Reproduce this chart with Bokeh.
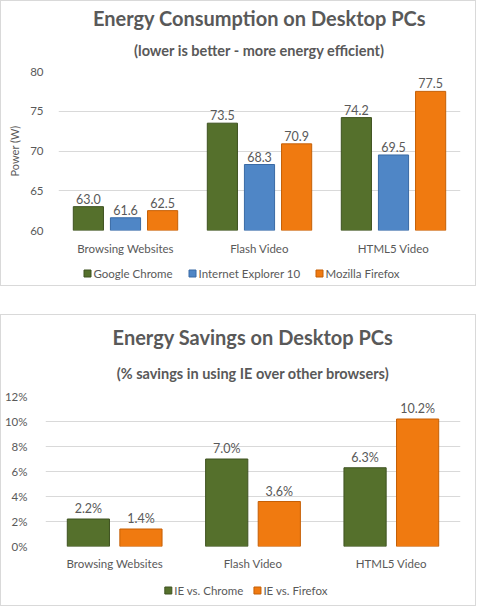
from bokeh.plotting import figure
from bokeh.models import (ColumnDataSource, FactorRange, Range1d, Title, FixedTicker,
                          PrintfTickFormatter)
from bokeh.core.properties import value
from bokeh.transform import dodge
from bokeh.layouts import column
from bokeh.embed import file_html
from bokeh.resources import INLINE

# ---------------- data ----------------
categories = ["Browsing Websites", "Flash Video", "HTML5 Video"]
chrome = [63.0, 73.5, 74.2]
ie10 = [61.6, 68.3, 69.5]
firefox = [62.5, 70.9, 77.5]
power_ticks = [60, 65, 70, 75, 80]
legend1 = ["Google Chrome", "Internet Explorer 10", "Mozilla Firefox"]

ie_vs_chrome = [2.2, 7.0, 6.3]
ie_vs_firefox = [1.4, 3.6, 10.2]
saving_ticks = [0, 2, 4, 6, 8, 10, 12]
legend2 = ["IE vs. Chrome", "IE vs. Firefox"]

FONT = "Lato"
TXT = "#595959"
GREEN, GREEN_E = "#55702c", "#3e5220"
BLUE, BLUE_E = "#4f86c6", "#3a6aa5"
ORANGE, ORANGE_E = "#f07a10", "#c55f05"
W = 474
RIGHT = 15


def base_fig(h, left, top, bottom, yr, ticks, xstand, ystand):
    p = figure(width=W, height=h, x_range=FactorRange(*categories, range_padding=0),
               y_range=yr, output_backend="svg", toolbar_location=None,
               min_border_left=left, min_border_right=RIGHT, min_border_top=top,
               min_border_bottom=bottom)
    p.outline_line_color = None
    p.xgrid.grid_line_color = None
    p.ygrid.grid_line_color = "#d9d9d9"
    p.yaxis.ticker = FixedTicker(ticks=ticks)
    for ax in (p.xaxis, p.yaxis):
        ax.axis_line_color = None
        ax.major_tick_line_color = None
        ax.minor_tick_line_color = None
        ax.major_label_text_font = FONT
        ax.major_label_text_color = TXT
        ax.major_label_text_font_size = "11.5px"
    p.xaxis.major_label_standoff = xstand
    p.yaxis.major_label_standoff = ystand
    return p


def titles(p, main, sub, main_standoff, sub_standoff):
    p.title.text = main
    p.title.align = "center"
    p.title.text_font = FONT
    p.title.text_font_size = "20px"
    p.title.text_font_style = "bold"
    p.title.text_color = TXT
    p.title.standoff = main_standoff
    st = Title(text=sub, align="center", text_font=FONT, text_font_size="14.5px",
               text_font_style="bold", text_color=TXT, standoff=sub_standoff)
    p.add_layout(st, "above")


def bars(p, vals, off, w, fill, edge, fmt, base):
    src = ColumnDataSource(dict(cat=categories, v=vals, lbl=[fmt % v for v in vals]))
    p.vbar(x=dodge("cat", off, range=p.x_range), top="v", bottom=base,
           width=w, source=src, fill_color=fill, line_color=edge, line_width=1)
    p.text(x=dodge("cat", off, range=p.x_range), y="v", text="lbl", source=src,
           text_align="center", text_baseline="bottom", y_offset=-3,
           text_font=value(FONT), text_font_size="12.5px", text_color=TXT)


def legend_fig(labels, xs, colors, edges, h, yc, left):
    q = figure(width=W, height=h, x_range=Range1d(left, W - RIGHT), y_range=Range1d(0, h),
               output_backend="svg", toolbar_location=None, x_axis_type=None,
               y_axis_type=None, min_border_left=left, min_border_right=RIGHT,
               min_border_top=0, min_border_bottom=0)
    q.outline_line_color = None
    q.xgrid.grid_line_color = None
    q.ygrid.grid_line_color = None
    src = ColumnDataSource(dict(x=xs, tx=[x + 6 for x in xs], y=[yc] * len(xs),
                                lbl=labels, c=colors, e=edges))
    q.scatter(x="x", y="y", marker="square", size=7, fill_color="c", line_color="e",
              source=src)
    q.text(x="tx", y="y", text="lbl", source=src, text_align="left",
           text_baseline="middle", text_font=value(FONT), text_font_size="11.5px",
           text_color=TXT)
    return q


BOX = {"border": "1px solid #d9d9d9"}

# ---------------- chart 1 ----------------
p1 = base_fig(257, 57, 70, 28, Range1d(60, 80), power_ticks, 5, 9)
titles(p1, "Energy Consumption on Desktop PCs", "(lower is better - more energy efficient)",
       -5, 25)
p1.yaxis.axis_label = "Power (W)"
p1.yaxis.axis_label_text_font = FONT
p1.yaxis.axis_label_text_font_size = "11px"
p1.yaxis.axis_label_text_font_style = "normal"
p1.yaxis.axis_label_text_color = TXT
p1.yaxis.axis_label_standoff = 6
bars(p1, chrome, -0.277, 0.225, GREEN, GREEN_E, "%.1f", 60)
bars(p1, ie10, 0.0, 0.225, BLUE, BLUE_E, "%.1f", 60)
bars(p1, firefox, 0.277, 0.225, ORANGE, ORANGE_E, "%.1f", 60)
l1 = legend_fig(legend1, [86, 191, 318], [GREEN, BLUE, ORANGE], [GREEN_E, BLUE_E, ORANGE_E],
                27, 12, 57)
c1 = column(p1, l1, spacing=0, styles=BOX)

# ---------------- chart 2 ----------------
p2 = base_fig(263, 40, 81, 32, Range1d(0, 12), saving_ticks, 4, 12)
titles(p2, "Energy Savings on Desktop PCs", "(% savings in using IE over other browsers)",
       -3, 30)
p2.yaxis.formatter = PrintfTickFormatter(format="%d%%")
bars(p2, ie_vs_chrome, -0.19, 0.305, GREEN, GREEN_E, "%.1f%%", 0)
bars(p2, ie_vs_firefox, 0.19, 0.305, ORANGE, ORANGE_E, "%.1f%%", 0)
l2 = legend_fig(legend2, [164, 254], [GREEN, ORANGE], [GREEN_E, ORANGE_E], 27, 15, 40)
c2 = column(p2, l2, spacing=0, styles=BOX)

layout = column(c1, c2, spacing=28)
open("out.html", "w").write(file_html(layout, INLINE))
